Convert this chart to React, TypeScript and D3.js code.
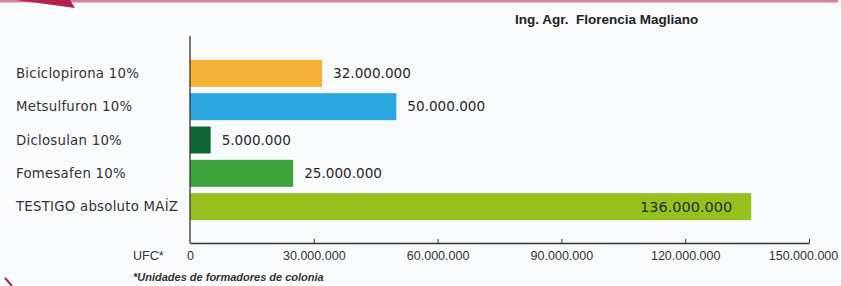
import React, { useEffect, useRef } from 'react';
import * as d3 from 'd3';

const categories = [
  'Biciclopirona 10%',
  'Metsulfuron 10%',
  'Diclosulan 10%',
  'Fomesafen 10%',
  'TESTIGO absoluto MAÍZ',
];
const values = [32000000, 50000000, 5000000, 25000000, 136000000];
const barColors = ['#f5b234', '#2ba7df', '#0d6634', '#3ba43c', '#96c11f'];
const tickValues = [0, 30000000, 60000000, 90000000, 120000000, 150000000];

const fmt = (v: number) => d3.format(',')(v).replace(/,/g, '.');

function App() {
  const ref = useRef<SVGSVGElement>(null);

  useEffect(() => {
    const svg = d3.select(ref.current);
    svg.selectAll('*').remove();
    const width = 841;
    const height = 286;

    svg.append('rect').attr('width', width).attr('height', height).attr('fill', '#f9fafc');

    // decorative top border
    svg.append('rect').attr('x', 0).attr('y', 0).attr('width', 838).attr('height', 2.5).attr('fill', '#d5819c');
    svg.append('path').attr('d', 'M16,0 L70,0 L75,8 Z').attr('fill', '#b3224f');
    svg.append('path').attr('d', 'M5,278 L12,286').attr('stroke', '#b3224f').attr('stroke-width', 2);

    const x = d3.scaleLinear().domain([0, 150000000]).range([190, 809]);
    const y = d3.scaleBand().domain(categories).range([56.5, 223.5]).paddingInner(0.19).paddingOuter(0.1);

    svg.append('text')
      .attr('x', 515)
      .attr('y', 24)
      .style('white-space', 'pre')
      .attr('font-family', '"Liberation Sans", Arial, sans-serif')
      .attr('font-weight', 'bold')
      .attr('font-size', 13.5)
      .attr('fill', '#222')
      .text('Ing. Agr.  Florencia Magliano');

    svg.selectAll('rect.bar')
      .data(values)
      .join('rect')
      .attr('class', 'bar')
      .attr('x', x(0))
      .attr('y', (_, i) => y(categories[i])!)
      .attr('width', d => x(d) - x(0))
      .attr('height', y.bandwidth())
      .attr('fill', (_, i) => barColors[i]);

    svg.selectAll('text.cat')
      .data(categories)
      .join('text')
      .attr('class', 'cat')
      .attr('x', 16)
      .attr('y', d => y(d)! + y.bandwidth() / 2)
      .attr('dy', '0.35em')
      .attr('font-family', '"DejaVu Sans", sans-serif')
      .attr('font-size', 13.3)
      .attr('letter-spacing', 0.25)
      .attr('fill', '#333')
      .text(d => d);

    const last = values.length - 1;
    svg.selectAll('text.val')
      .data(values)
      .join('text')
      .attr('class', 'val')
      .attr('x', (d, i) => (i === last ? x(d) - 19 : x(d) + 11))
      .attr('text-anchor', (_, i) => (i === last ? 'end' : 'start'))
      .attr('y', (_, i) => y(categories[i])! + y.bandwidth() / 2)
      .attr('dy', '0.35em')
      .attr('font-family', '"DejaVu Sans", sans-serif')
      .attr('font-size', (_, i) => (i === last ? 14.5 : 13.6))
      .attr('fill', '#2a2a2a')
      .text(d => fmt(d));

    // y axis line
    svg.append('line')
      .attr('x1', x(0)).attr('x2', x(0))
      .attr('y1', 36).attr('y2', 243.5)
      .attr('stroke', '#333').attr('stroke-width', 1.3);

    const axis = svg.append('g')
      .attr('transform', 'translate(0,243)')
      .call(
        d3.axisBottom(x)
          .tickValues(tickValues)
          .tickSize(-4)
          .tickSizeOuter(0)
          .tickPadding(8)
          .tickFormat(d => fmt(d as number)),
      );
    axis.select('.domain').attr('stroke', '#333').attr('stroke-width', 1.3);
    axis.selectAll('.tick line').attr('stroke', '#333');
    axis.selectAll('.tick text')
      .attr('font-family', '"Liberation Sans", Arial, sans-serif')
      .attr('font-size', 12.5)
      .attr('fill', '#333');
    axis.selectAll('.tick').filter((d, i) => i === 0).select('line').remove();
    axis.selectAll('.tick').filter((d, i) => i === tickValues.length - 1).select('text').attr('dx', -6);

    svg.append('text')
      .attr('x', 133).attr('y', 260)
      .attr('font-family', '"Liberation Sans", Arial, sans-serif')
      .attr('font-size', 12.5).attr('fill', '#333')
      .text('UFC*');

    svg.append('text')
      .attr('x', 133).attr('y', 281)
      .attr('font-family', '"Liberation Sans", Arial, sans-serif')
      .attr('font-size', 11).attr('font-style', 'italic').attr('font-weight', 'bold')
      .attr('fill', '#333')
      .text('*Unidades de formadores de colonia');
  });

  return (
    <svg ref={ref} width={841} height={286} style={{ position: 'absolute', left: 0, top: 0 }} />
  );
}

export default App;
